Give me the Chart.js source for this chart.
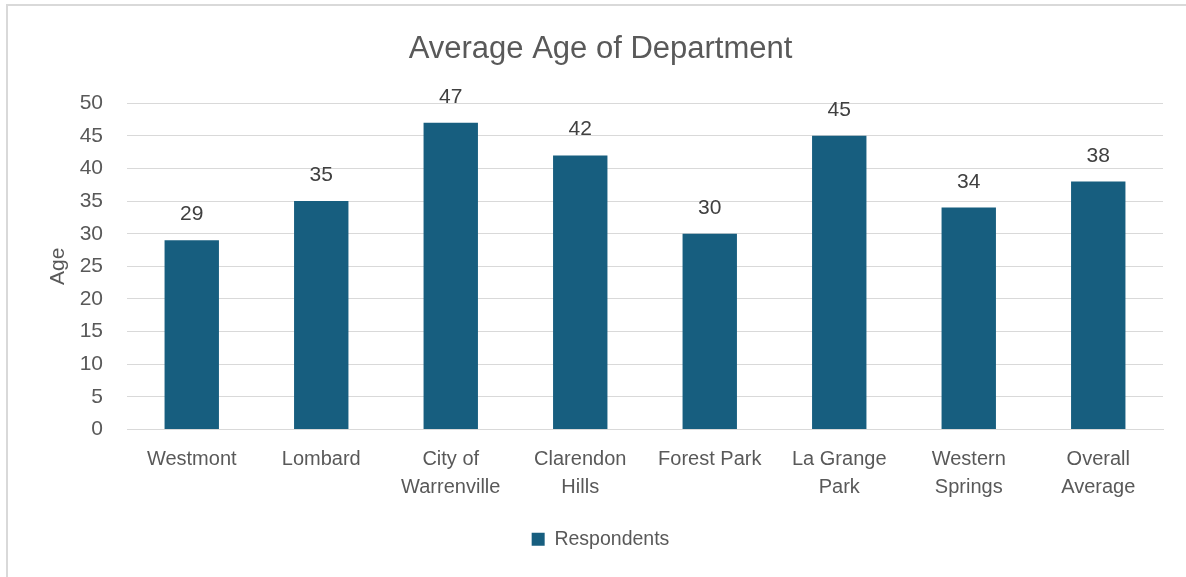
<!DOCTYPE html>
<html>
<head>
<meta charset="utf-8">
<script src="https://cdn.jsdelivr.net/npm/chart.js@4/dist/chart.umd.min.js"></script>
<style>
  html, body { margin: 0; padding: 0; background: #fff; overflow: hidden; }
  #frame {
    position: absolute; left: 6px; top: 4px;
    width: 1180px; height: 573px;
    border-left: 2px solid #d9d9d9; border-top: 2px solid #d9d9d9;
  }
  #age { display: block; }
</style>
</head>
<body>
<div id="frame"><canvas id="age" width="1178" height="571"></canvas></div>
<script>
const departments = [
  ['Westmont'], ['Lombard'], ['City of', 'Warrenville'], ['Clarendon', 'Hills'],
  ['Forest Park'], ['La Grange', 'Park'], ['Western', 'Springs'], ['Overall', 'Average']
];
const avgAge = [29, 35, 47, 42, 30, 45, 34, 38];
const yTicks = [0, 5, 10, 15, 20, 25, 30, 35, 40, 45, 50];

const FONT = "'Liberation Sans Narrow', 'Arial Narrow', 'Liberation Sans', Arial, sans-serif";
const GREY = '#595959';

// value printed above each bar
const barLabels = {
  id: 'barLabels',
  afterDatasetsDraw(chart) {
    const ctx = chart.ctx;
    const meta = chart.getDatasetMeta(0);
    ctx.save();
    ctx.font = '21px ' + FONT;
    ctx.fillStyle = '#404040';
    ctx.textAlign = 'center';
    ctx.textBaseline = 'alphabetic';
    meta.data.forEach((bar, i) => {
      ctx.fillText(String(chart.data.datasets[0].data[i]), bar.x, bar.y - 20);
    });
    ctx.restore();
  }
};

var ctx = document.getElementById('age').getContext('2d');
var myChart = new Chart(ctx, {
  type: 'bar',
  data: {
    labels: departments,
    datasets: [{
      label: 'Respondents',
      data: avgAge,
      backgroundColor: '#175e7f',
      borderWidth: 0,
      barPercentage: 0.42,
      categoryPercentage: 1
    }]
  },
  options: {
    responsive: false,
    animation: false,
    layout: {
      padding: { left: 30, right: 23, top: 0, bottom: 18 }
    },
    scales: {
      x: {
        afterFit: (scale) => { scale.height = 72; },
        grid: { display: false, drawTicks: false },
        border: { color: '#d9d9d9', width: 1 },
        ticks: {
          color: GREY,
          font: { family: FONT, size: 20, lineHeight: 1.4 },
          padding: 16,
          maxRotation: 0,
          autoSkip: false
        }
      },
      y: {
        min: 0,
        max: 50,
        afterFit: (scale) => { scale.width = 89; },
        afterBuildTicks: (scale) => { scale.ticks = yTicks.map(v => ({ value: v })); },
        grid: { color: '#d9d9d9', lineWidth: 1, drawTicks: false },
        border: { display: false },
        ticks: {
          color: GREY,
          font: { family: FONT, size: 21 },
          padding: 24
        },
        title: {
          display: true,
          text: 'Age',
          color: GREY,
          font: { family: FONT, size: 21 },
          padding: { top: 8, bottom: 0 }
        }
      }
    },
    plugins: {
      title: {
        display: true,
        text: 'Average Age of Department',
        color: GREY,
        font: { family: FONT, size: 31, weight: 'normal' },
        padding: { top: 25, bottom: 35 }
      },
      legend: {
        position: 'bottom',
        labels: {
          color: GREY,
          font: { family: FONT, size: 19.5 },
          boxWidth: 13,
          boxHeight: 13,
          padding: 28
        }
      },
      tooltip: { enabled: false }
    }
  },
  plugins: [barLabels]
});
</script>
</body>
</html>
